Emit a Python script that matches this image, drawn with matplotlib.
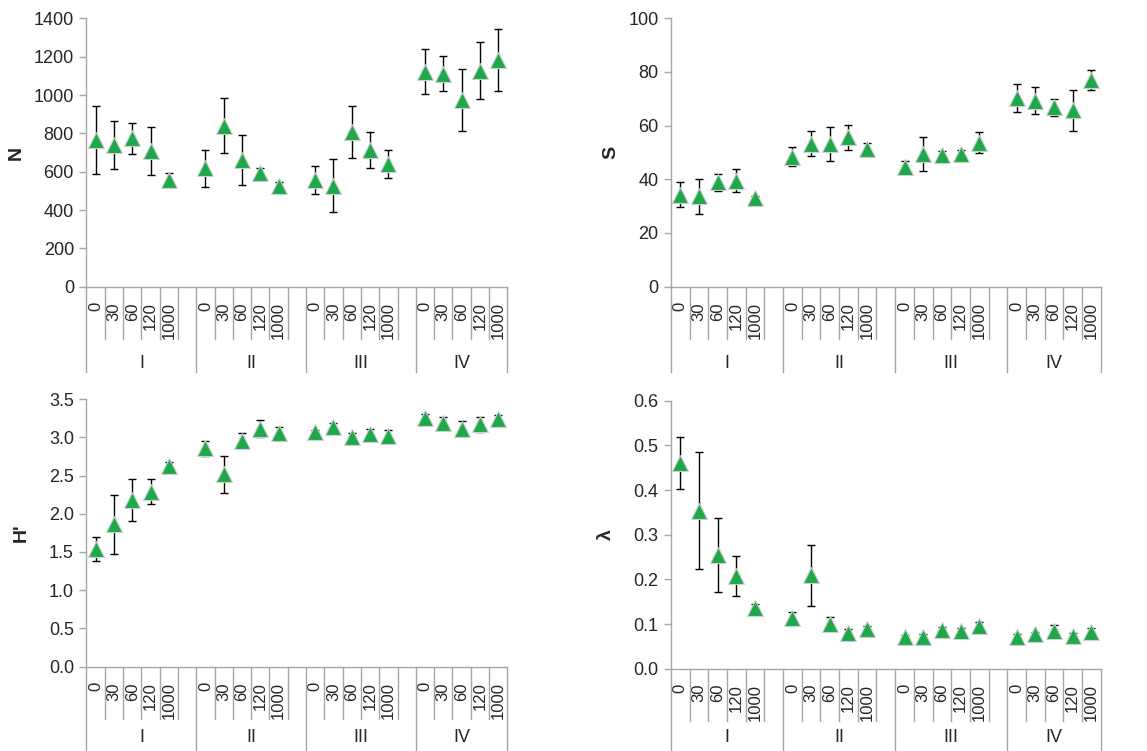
import matplotlib
matplotlib.use("Agg")
import matplotlib.pyplot as plt

plt.rcParams['font.family'] = ['Liberation Sans', 'DejaVu Sans']

groups = ['I', 'II', 'III', 'IV']
levels = ['0', '30', '60', '120', '1000']

n_mean = [765, 739, 774, 708, 557, 617, 840, 661, 591, 525,
          557, 527, 809, 713, 640, 1122, 1110, 974, 1127, 1183]
n_err = [178, 125, 80, 126, 35, 95, 144, 128, 30, 20,
         73, 138, 135, 92, 74, 116, 91, 163, 149, 162]

s_mean = [34.2, 33.7, 38.8, 39.5, 32.9, 48.4, 53.3, 53.0, 55.6, 51.3,
          44.4, 49.5, 49.1, 49.4, 53.6, 70.4, 69.3, 66.8, 65.6, 76.9]
s_err = [4.6, 6.5, 3.0, 4.2, 1.0, 3.5, 4.5, 6.3, 4.7, 2.3,
         2.4, 6.4, 1.5, 1.5, 3.8, 5.2, 5.1, 3.1, 7.6, 3.8]

h_mean = [1.54, 1.86, 2.18, 2.29, 2.62, 2.855, 2.515, 2.955, 3.11, 3.06,
          3.07, 3.14, 3.00, 3.04, 3.02, 3.25, 3.19, 3.11, 3.17, 3.235]
h_err = [0.16, 0.38, 0.27, 0.16, 0.05, 0.10, 0.24, 0.10, 0.11, 0.07,
         0.03, 0.05, 0.05, 0.07, 0.08, 0.06, 0.07, 0.10, 0.10, 0.06]

l_mean = [0.460, 0.354, 0.254, 0.207, 0.135, 0.114, 0.209, 0.101, 0.079, 0.088,
          0.070, 0.072, 0.087, 0.084, 0.0955, 0.072, 0.077, 0.084, 0.073, 0.083]
l_err = [0.058, 0.131, 0.083, 0.045, 0.010, 0.012, 0.069, 0.014, 0.010, 0.008,
         0.006, 0.006, 0.007, 0.007, 0.009, 0.006, 0.006, 0.013, 0.006, 0.008]

GRAY = '#a6a6a6'
TXT = '#262626'
GREEN = '#1fa84a'

# every group gets 6 slots (5 levels + blank gap), except the last one
slot = len(levels) + 1
n_slots = slot * len(groups) - 1
xs = [g * slot + i + 0.5 for g in range(len(groups)) for i in range(len(levels))]
tick_labels = [lv for g in groups for lv in levels]


def panel(rect, mean, err, ymax, step, fmt, ylabel, label_x, group_y=-0.285):
    ax = fig.add_axes(rect)
    ax.errorbar(xs, mean, yerr=err, fmt='none', ecolor='black', elinewidth=1,
                capsize=3, capthick=1, zorder=2, clip_on=False)
    ax.plot(xs, mean, '^', ms=11, color=GREEN, mec='#cfcfcf', mew=0.8,
            zorder=3, clip_on=False)

    ax.set_xlim(0, n_slots)
    ax.set_ylim(0, ymax)
    ticks = [i * step for i in range(int(round(ymax / step)) + 1)]
    ax.set_yticks(ticks, [fmt.format(t) for t in ticks])
    ax.set_xticks(xs, tick_labels, rotation=90)
    ax.tick_params(axis='x', length=0, pad=11, labelsize=12, labelcolor=TXT)
    ax.tick_params(axis='y', length=5, width=1, color=GRAY, labelsize=13,
                   labelcolor=TXT, pad=4)

    for s in ('top', 'right'):
        ax.spines[s].set_visible(False)
    for s in ('left', 'bottom'):
        ax.spines[s].set_color(GRAY)
        ax.spines[s].set_linewidth(1)

    ax.set_ylabel(ylabel, fontsize=14, fontweight='bold', color=TXT)
    ax.yaxis.set_label_coords(label_x, 0.5)

    tr = ax.get_xaxis_transform()
    short, long_ = -0.196, -0.318
    for g in range(len(groups)):
        x0 = g * slot
        ax.plot([x0, x0], [0, long_], color=GRAY, lw=1, transform=tr, clip_on=False)
        for i in range(1, len(levels) + 1):
            if x0 + i >= n_slots:
                break
            ax.plot([x0 + i, x0 + i], [0, short], color=GRAY, lw=1,
                    transform=tr, clip_on=False)
        x1 = min(x0 + slot, n_slots)
        ax.text((x0 + x1) / 2, group_y, groups[g], transform=tr, ha='center',
                va='center', fontsize=13, color=TXT)
    ax.plot([n_slots, n_slots], [0, long_], color=GRAY, lw=1, transform=tr,
            clip_on=False)
    return ax


fig = plt.figure(figsize=(11.47, 7.51), dpi=100)

panel([0.0754, 0.6182, 0.3669, 0.3574], n_mean, n_err, 1400, 200, '{:.0f}', 'N', -0.146)
panel([0.5850, 0.6182, 0.3746, 0.3578], s_mean, s_err, 100, 20, '{:.0f}', 'S', -0.121)
panel([0.0754, 0.1122, 0.3669, 0.3565], h_mean, h_err, 3.5, 0.5, '{:.1f}', "H'", -0.134,
      group_y=-0.265)
panel([0.5850, 0.1096, 0.3746, 0.3568], l_mean, l_err, 0.6, 0.1, '{:.1f}', 'λ', -0.130,
      group_y=-0.255)

fig.savefig('out.png', dpi=100)
